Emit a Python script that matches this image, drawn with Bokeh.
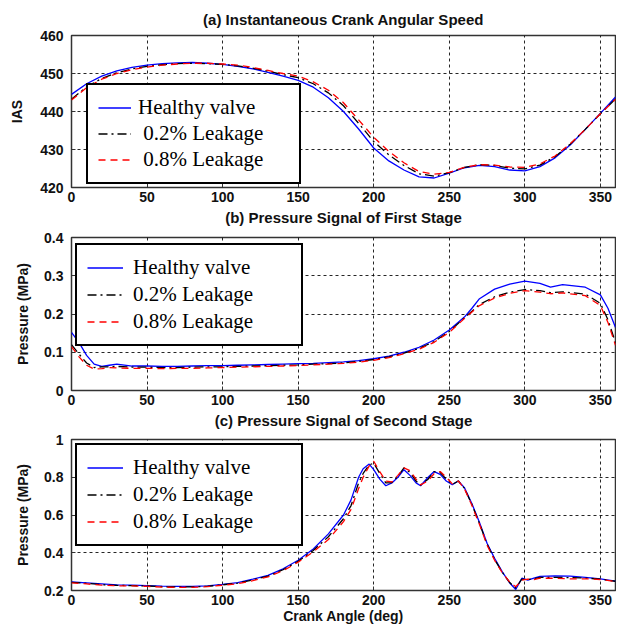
from bokeh.plotting import figure
from bokeh.layouts import column
from bokeh.models import Range1d, FixedTicker, CustomJSTickFormatter, Legend, LegendItem, Title
from bokeh.embed import file_html
from bokeh.resources import INLINE

# ---------------- data ----------------
x_ticks = [0, 50, 100, 150, 200, 250, 300, 350]

# (a) Instantaneous crank angular speed
angle_a = [0, 10, 20, 30, 40, 50, 60, 70, 80, 90, 100, 110, 120, 130, 140, 150, 160, 170, 180,
           190, 200, 210, 220, 230, 240, 250, 260, 270, 280, 290, 300, 310, 320, 330, 340, 350, 360]
ias_healthy = [444.5, 447.3, 449.3, 450.7, 451.6, 452.2, 452.6, 452.8, 452.9, 452.7, 452.4, 451.9,
               451.2, 450.3, 449.3, 448.2, 446.4, 443.6, 440.0, 435.4, 430.4, 427.0, 424.6, 422.8,
               422.5, 423.8, 425.2, 425.8, 425.5, 424.6, 424.4, 425.5, 427.8, 431.2, 435.3, 439.5, 443.8]
ias_leak02 = [443.2, 446.5, 448.7, 450.2, 451.2, 451.9, 452.3, 452.6, 452.7, 452.6, 452.4, 452.0,
              451.4, 450.6, 449.7, 448.9, 447.3, 444.9, 441.5, 436.9, 432.1, 428.6, 425.8, 423.6,
              423.0, 423.9, 425.3, 426.0, 425.8, 425.1, 424.9, 425.9, 428.1, 431.4, 435.3, 439.4, 443.3]
ias_leak08 = [443.0, 446.3, 448.5, 450.0, 451.0, 451.7, 452.2, 452.5, 452.7, 452.7, 452.5, 452.2,
              451.6, 450.8, 450.0, 449.3, 447.8, 445.6, 442.3, 437.8, 433.2, 429.5, 426.5, 424.2,
              423.5, 424.0, 425.3, 426.0, 425.9, 425.4, 425.3, 426.2, 428.3, 431.5, 435.3, 439.4, 443.2]

# (b) Pressure signal of first stage
angle_b = [0, 5, 10, 15, 20, 25, 30, 40, 50, 60, 70, 80, 90, 100, 110, 120, 130, 140, 150, 160, 170,
           180, 190, 200, 210, 220, 230, 240, 250, 260, 265, 270, 280, 290, 300, 310, 317, 325, 340,
           350, 355, 360]
p1_healthy = [0.152, 0.125, 0.092, 0.069, 0.063, 0.066, 0.069, 0.064, 0.064, 0.063, 0.063, 0.064,
              0.065, 0.065, 0.066, 0.067, 0.068, 0.069, 0.070, 0.071, 0.073, 0.075, 0.078, 0.083,
              0.090, 0.100, 0.113, 0.132, 0.158, 0.192, 0.215, 0.240, 0.265, 0.278, 0.286, 0.280,
              0.270, 0.277, 0.270, 0.250, 0.215, 0.165]
p1_leak02 = [0.120, 0.095, 0.072, 0.060, 0.062, 0.062, 0.063, 0.061, 0.061, 0.060, 0.060, 0.061,
             0.062, 0.062, 0.063, 0.064, 0.065, 0.066, 0.067, 0.069, 0.070, 0.072, 0.076, 0.081,
             0.088, 0.098, 0.110, 0.128, 0.154, 0.190, 0.207, 0.225, 0.245, 0.257, 0.264, 0.261,
             0.256, 0.258, 0.252, 0.228, 0.185, 0.125]
p1_leak08 = [0.115, 0.088, 0.066, 0.056, 0.057, 0.060, 0.059, 0.058, 0.058, 0.057, 0.058, 0.058,
             0.059, 0.060, 0.061, 0.062, 0.063, 0.064, 0.065, 0.067, 0.069, 0.071, 0.074, 0.079,
             0.086, 0.096, 0.108, 0.126, 0.152, 0.188, 0.205, 0.222, 0.242, 0.254, 0.261, 0.257,
             0.253, 0.255, 0.248, 0.222, 0.178, 0.118]

# (c) Pressure signal of second stage
angle_c = [0, 10, 20, 30, 40, 50, 60, 70, 80, 90, 100, 110, 120, 130, 140, 150, 160, 170, 180, 185,
           190, 193, 197, 200, 204, 208, 212, 216, 220, 224, 228, 231, 236, 240, 244, 248, 252, 256,
           260, 265, 270, 275, 280, 285, 290, 294, 298, 302, 306, 310, 320, 330, 340, 350, 360]
p2_healthy = [0.245, 0.240, 0.235, 0.230, 0.228, 0.226, 0.223, 0.222, 0.222, 0.225, 0.232, 0.242,
              0.260, 0.280, 0.315, 0.360, 0.420, 0.500, 0.600, 0.680, 0.800, 0.845, 0.870, 0.840,
              0.790, 0.755, 0.770, 0.800, 0.840, 0.810, 0.770, 0.755, 0.800, 0.830, 0.815, 0.780,
              0.760, 0.780, 0.745, 0.660, 0.560, 0.450, 0.370, 0.300, 0.240, 0.205, 0.265, 0.255,
              0.265, 0.275, 0.278, 0.276, 0.270, 0.262, 0.250]
p2_leak02 = [0.243, 0.238, 0.231, 0.227, 0.226, 0.224, 0.220, 0.219, 0.219, 0.222, 0.230, 0.239,
             0.256, 0.276, 0.310, 0.355, 0.412, 0.485, 0.580, 0.650, 0.770, 0.820, 0.865, 0.875,
             0.820, 0.770, 0.772, 0.805, 0.850, 0.825, 0.780, 0.758, 0.790, 0.830, 0.825, 0.790,
             0.762, 0.780, 0.742, 0.655, 0.555, 0.445, 0.365, 0.297, 0.242, 0.213, 0.260, 0.258,
             0.262, 0.270, 0.270, 0.268, 0.266, 0.260, 0.249]
p2_leak08 = [0.240, 0.235, 0.228, 0.225, 0.224, 0.222, 0.218, 0.216, 0.217, 0.220, 0.228, 0.236,
             0.252, 0.272, 0.305, 0.350, 0.405, 0.470, 0.565, 0.630, 0.740, 0.800, 0.860, 0.885,
             0.830, 0.780, 0.775, 0.810, 0.850, 0.835, 0.790, 0.760, 0.780, 0.820, 0.830, 0.800,
             0.765, 0.780, 0.740, 0.650, 0.550, 0.440, 0.360, 0.295, 0.245, 0.220, 0.255, 0.260,
             0.258, 0.265, 0.265, 0.262, 0.262, 0.258, 0.248]

series_names = ["Healthy valve", "0.2% Leakage", "0.8% Leakage"]
titles = ["(a) Instantaneous Crank Angular Speed",
          "(b) Pressure Signal of First Stage",
          "(c) Pressure Signal of Second Stage"]

# ---------------- styling ----------------
COLORS = ["#0000ff", "#000000", "#ff0000"]
DASHES = ["solid", "9 4 2 4", "7 5"]
TICK_FONT = "Liberation Sans"
LEGEND_FONT = "Liberation Serif"


def make_title(text, standoff):
    t = Title(text=text, align="center", text_font=TICK_FONT, text_font_style="bold",
              text_font_size="15px", text_color="#111111", standoff=standoff)
    return t


def make_panel(ylabel, y0, y1, yticks, ygrid, xs, ys_list, labels,
               height, border_top, border_bottom, legend_loc, leg, ylabel_standoff):
    p = figure(width=616, height=height, output_backend="svg", toolbar_location=None,
               title=None,
               x_range=Range1d(0, 360), y_range=Range1d(y0, y1),
               min_border_left=71, min_border_right=1,
               min_border_top=border_top, min_border_bottom=border_bottom)

    p.background_fill_color = "white"
    p.border_fill_color = "white"
    p.outline_line_color = "#333333"
    p.outline_line_width = 1.5

    for ax in (p.xaxis[0], p.yaxis[0]):
        ax.axis_line_color = None
        ax.major_tick_in = 4
        ax.major_tick_out = 0
        ax.minor_tick_line_color = None
        ax.major_tick_line_color = "#333333"
        ax.major_label_text_font = TICK_FONT
        ax.major_label_text_font_style = "bold"
        ax.major_label_text_font_size = "14px"
        ax.major_label_text_color = "#111111"
        ax.axis_label_text_font = TICK_FONT
        ax.axis_label_text_font_style = "bold"
        ax.axis_label_text_font_size = "14px"
        ax.axis_label_text_color = "#111111"
        ax.formatter = CustomJSTickFormatter(code="return String(Math.round(tick*1000)/1000);")

    p.xaxis[0].ticker = FixedTicker(ticks=x_ticks)
    p.xaxis[0].major_label_standoff = 4
    p.yaxis[0].ticker = FixedTicker(ticks=yticks)
    p.yaxis[0].major_label_standoff = 8
    p.yaxis[0].axis_label = ylabel
    p.yaxis[0].axis_label_standoff = ylabel_standoff

    p.xgrid[0].ticker = FixedTicker(ticks=[t for t in x_ticks if t > 0])
    p.ygrid[0].ticker = FixedTicker(ticks=ygrid)
    for g in (p.xgrid[0], p.ygrid[0]):
        g.grid_line_color = "#000000"
        g.grid_line_dash = "3 3"
        g.grid_line_width = 1
        g.grid_line_alpha = 0.85

    items = []
    for ys, c, d, lab in zip(ys_list, COLORS, DASHES, labels):
        r = p.line(xs, ys, line_color=c, line_dash=d, line_width=1.3)
        items.append(LegendItem(label=lab, renderers=[r]))

    lg = Legend(items=items, location=legend_loc)
    lg.border_line_color = "black"
    lg.border_line_width = 2
    lg.border_line_alpha = 1
    lg.background_fill_color = "white"
    lg.background_fill_alpha = 1
    lg.padding = leg["padding"]
    lg.spacing = leg["spacing"]
    lg.margin = 0
    lg.glyph_width = leg["glyph_w"]
    lg.glyph_height = leg["row_h"]
    lg.label_height = leg["row_h"]
    lg.label_width = leg["label_w"]
    lg.label_standoff = leg["standoff"]
    lg.label_text_font = LEGEND_FONT
    lg.label_text_font_size = "21px"
    lg.label_text_color = "black"
    lg.label_text_baseline = "middle"
    p.add_layout(lg, "center")
    return p


leg_a = dict(padding=10, spacing=1, glyph_w=33, row_h=23, label_w=151, standoff=7)
leg_bc = dict(padding=10, spacing=2, glyph_w=36, row_h=25, label_w=158, standoff=10)

pa = make_panel("IAS", 420, 460, [420, 430, 440, 450, 460],
                [430, 440, 450], angle_a, [ias_healthy, ias_leak02, ias_leak08],
                ["Healthy valve", "\u00a00.2% Leakage", "\u00a00.8% Leakage"],
                height=228, border_top=35, border_bottom=41, legend_loc=(15, 3), leg=leg_a,
                ylabel_standoff=12)

pb = make_panel("Pressure (MPa)", 0, 0.4,
                [0, 0.1, 0.2, 0.3, 0.4], [0.1, 0.2, 0.3], angle_b,
                [p1_healthy, p1_leak02, p1_leak08], series_names,
                height=202, border_top=9, border_bottom=40, legend_loc=(4, 44), leg=leg_bc,
                ylabel_standoff=10)

pc = make_panel("Pressure (MPa)", 0.2, 1.0,
                [0.2, 0.4, 0.6, 0.8, 1.0], [0.4, 0.6, 0.8], angle_c,
                [p2_healthy, p2_leak02, p2_leak08], series_names,
                height=198, border_top=9, border_bottom=38, legend_loc=(4, 44), leg=leg_bc,
                ylabel_standoff=10)
pc.xaxis[0].axis_label = "Crank Angle (deg)"
pc.xaxis[0].axis_label_standoff = 0

# panel titles: (a) above its own frame, (b) and (c) in the gap below the previous panel
pa.add_layout(make_title(titles[0], 15), "above")
pa.add_layout(make_title(titles[1], 5), "below")
pb.add_layout(make_title(titles[2], 4), "below")

layout = column(pa, pb, pc, spacing=0)
open("out.html", "w").write(file_html(layout, INLINE))
